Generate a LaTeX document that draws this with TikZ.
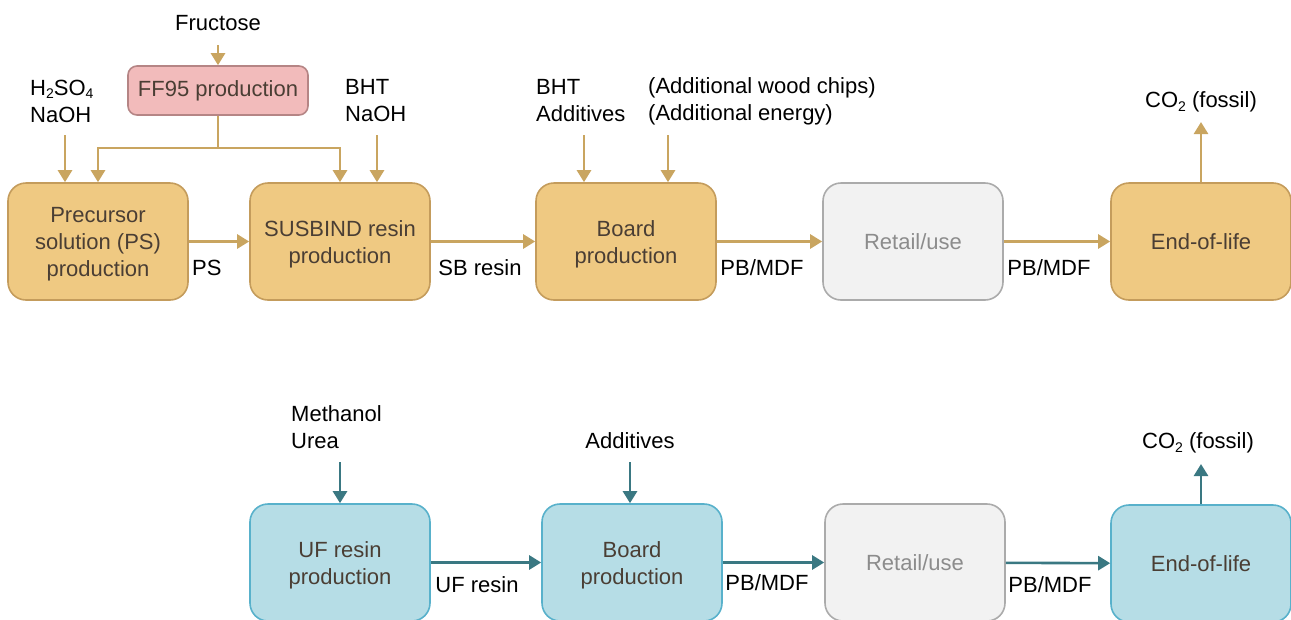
\documentclass[tikz,border=0pt]{standalone}
\usepackage{fontspec}
\setmainfont{Liberation Sans}
\usetikzlibrary{arrows.meta}
\definecolor{ofill}{HTML}{EFC982}
\definecolor{odraw}{HTML}{C49C5C}
\definecolor{oarr}{HTML}{C9A560}
\definecolor{bfill}{HTML}{B6DDE6}
\definecolor{bdraw}{HTML}{58B1CB}
\definecolor{barr}{HTML}{3A7882}
\definecolor{gfill}{HTML}{F2F2F2}
\definecolor{gdraw}{HTML}{ABABAB}
\definecolor{gtext}{HTML}{8C8C8C}
\definecolor{pfill}{HTML}{F2BBBB}
\definecolor{pdraw}{HTML}{B58585}
\definecolor{btext}{HTML}{4A3E34}
% lowered chemical subscript
\newcommand{\chemsub}[1]{\raisebox{-0.3ex}{\fontsize{14}{14}\selectfont #1}}
% box caption, set a little below the geometric centre
\newcommand{\boxtext}[1]{\raisebox{-3pt}[\height][\depth]{\begin{tabular}{@{}c@{}}#1\end{tabular}}}
\tikzset{
  base/.style={font=\fontsize{22}{27}\selectfont},
  procbox/.style={base, rounded corners=18pt, minimum width=180pt, minimum height=117pt,
    line width=1.6pt, align=center, text=btext, inner sep=0pt},
  orangebox/.style={procbox, fill=ofill, draw=odraw},
  bluebox/.style={procbox, fill=bfill, draw=bdraw},
  greybox/.style={procbox, fill=gfill, draw=gdraw, text=gtext},
  pinkbox/.style={base, rounded corners=9pt, minimum width=180pt, minimum height=49pt,
    line width=1.6pt, fill=pfill, draw=pdraw, text=btext, inner sep=0pt},
  lbl/.style={base, align=left, inner sep=0pt},
  oline/.style={draw=oarr, line width=2.6pt},
  oarrow/.style={oline, -{Triangle[length=12pt,width=14pt]}},
  barrow/.style={draw=barr, line width=2.6pt, -{Triangle[length=12pt,width=14pt]}},
}
\begin{document}
\begin{tikzpicture}[x=1pt,y=-1pt]
\useasboundingbox (0,0) rectangle (1291,619);
\clip (0,0) rectangle (1291,619);

% ---- SUSBIND chain ----
\node[orangebox] (prec) at (98,241.5) {\boxtext{Precursor\\solution (PS)\\production}};
\node[orangebox] (sus)  at (340,241.5) {\boxtext{SUSBIND resin\\production}};
\node[orangebox] (brd)  at (626,241.5) {\boxtext{Board\\production}};
\node[greybox]   (ret)  at (913,241.5) {\boxtext{Retail/use}};
\node[orangebox] (eol)  at (1201,241.5) {\boxtext{End-of-life}};
\node[pinkbox]   (ff)   at (218,90.5) {FF95 production};

\node[lbl] (fru) at (218,23) {Fructose};
\node[lbl, anchor=west] (acid) at (30,101) {H\chemsub{2}SO\chemsub{4}\\NaOH};
\node[lbl, anchor=west] (bht1) at (345,101) {BHT\\NaOH};
\node[lbl, anchor=west] (bht2) at (536,101) {BHT\\Additives};
\node[lbl, anchor=west] (add)  at (648,101) {(Additional wood chips)\\(Additional energy)};
\node[lbl] (co2a) at (1201,102) {CO\chemsub{2} (fossil)};

\coordinate (fruin) at (218,45);
\coordinate (acidin) at (65,135);
\coordinate (bht1in) at (377,135);
\coordinate (bht2in) at (584,135);
\coordinate (addin) at (668,135);
\coordinate (split) at (218,148);
\coordinate (co2aout) at (1201,122);

\draw[oarrow] (fruin) -- (ff.north);
\draw[oarrow] (acidin) -- (prec.north -| acidin);
\draw[oarrow] (bht1in) -- (sus.north -| bht1in);
\draw[oarrow] (bht2in) -- (brd.north -| bht2in);
\draw[oarrow] (addin) -- (brd.north -| addin);
\draw[oline] (ff.south) -- (split);
\draw[oarrow] (split) -| (prec.north);
\draw[oarrow] (split) -| (sus.north);
\draw[oarrow] (eol.north) -- (co2aout);

\draw[oarrow] (prec) -- (sus);
\draw[oarrow] (sus) -- (brd);
\draw[oarrow] (brd) -- (ret);
\draw[oarrow] (ret) -- (eol);

\node[lbl, anchor=west] (lps) at (192,268) {PS};
\node[lbl] (lsb) at (480,268) {SB resin};
\node[lbl] (lpb1) at (762,268) {PB/MDF};
\node[lbl] (lpb2) at (1049,268) {PB/MDF};

% ---- UF chain ----
\node[bluebox] (uf)   at (340,562.5) {\boxtext{UF resin\\production}};
\node[bluebox] (brd2) at (632,562.5) {\boxtext{Board\\production}};
\node[greybox] (ret2) at (915,562.5) {\boxtext{Retail/use}};
\node[bluebox] (eol2) at (1201,563.5) {\boxtext{End-of-life}};

\node[lbl, anchor=west] (meth) at (291,427.5) {Methanol\\Urea};
\node[lbl] (add2) at (630,441) {Additives};
\node[lbl] (co2b) at (1198,443) {CO\chemsub{2} (fossil)};

\coordinate (methin) at (340,462);
\coordinate (add2in) at (630,462);
\coordinate (co2bout) at (1201,464);

\draw[barrow] (methin) -- (uf.north -| methin);
\draw[barrow] (add2in) -- (brd2.north -| add2in);
\draw[barrow] (eol2.north) -- (co2bout);

\draw[barrow] (uf) -- (brd2);
\draw[barrow] (brd2) -- (ret2);
\draw[barrow] (ret2) -- (eol2);

\node[lbl] (luf) at (477,585) {UF resin};
\node[lbl] (lpb3) at (767,583) {PB/MDF};
\node[lbl] (lpb4) at (1050,585) {PB/MDF};
\end{tikzpicture}
\end{document}
